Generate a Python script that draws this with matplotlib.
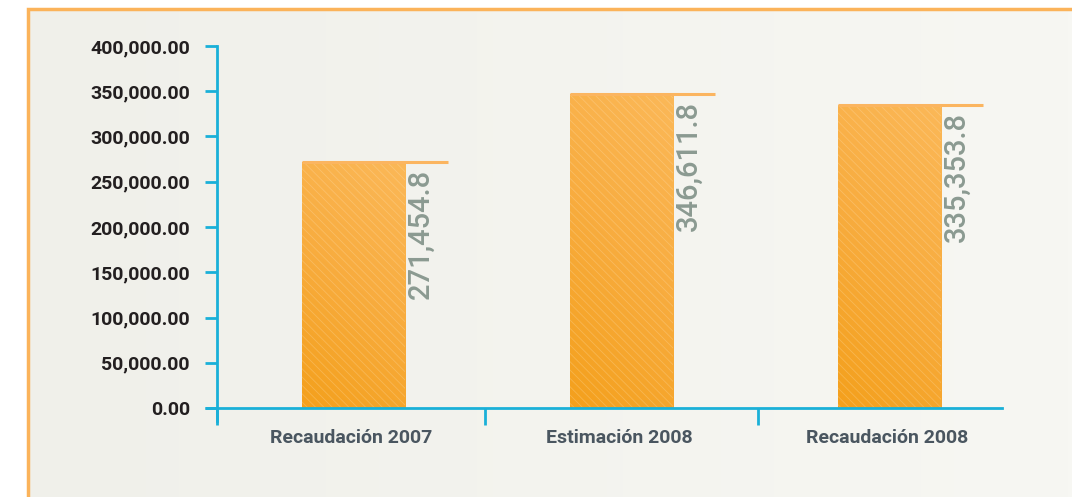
import numpy as np
import matplotlib.pyplot as plt
from matplotlib import transforms
from matplotlib.patches import Rectangle
from matplotlib.colors import LinearSegmentedColormap

categories = ["Recaudación 2007", "Estimación 2008", "Recaudación 2008"]
values = [271454.8, 346611.8, 335353.8]
value_labels = ["271,454.8", "346,611.8", "335,353.8"]
yticks = [0, 50000, 100000, 150000, 200000, 250000, 300000, 350000, 400000]

plt.rcParams["hatch.linewidth"] = 0.6

W, H = 1072, 497
fig = plt.figure(figsize=(W / 100, H / 100), dpi=100)
fig.patch.set_facecolor("white")

# framed panel with soft gradient
bg = fig.add_axes([28 / W, 0, 1 - 28 / W, (H - 9) / H], zorder=-2)
grad = np.linspace(0, 1, 256)[None, :]
bg.imshow(grad, aspect="auto", cmap=LinearSegmentedColormap.from_list(
    "bg", ["#f0f0ea", "#f7f7f3"]), extent=[0, 1, 0, 1])
bg.set_xlim(0, 1)
bg.set_ylim(0, 1)
bg.axis("off")
fig.add_artist(Rectangle((28 / W, -0.01), 1.1, (H - 9) / H + 0.01, transform=fig.transFigure,
                         fill=False, edgecolor="#fbb35a", linewidth=2.5, zorder=-1))

ax = fig.add_axes([217 / W, 89 / H, (1002 - 217) / W, (408 - 46) / H])
ax.set_facecolor("none")

x = np.arange(len(categories))
bw = 0.387
bars = ax.bar(x + 0.01, values, width=bw, color="#f8a834", zorder=2)

# gradient fill inside each bar plus diagonal texture
cmap = LinearSegmentedColormap.from_list("bar", ["#f4a01c", "#f8ac3e", "#fbb858"])
gy, gx = np.mgrid[0:1:200j, 0:1:60j]
g = np.clip(gy * 0.75 + gx * 0.25, 0, 1)
for b in bars:
    im = ax.imshow(g, cmap=cmap, origin="lower", aspect="auto", zorder=2.1,
                   extent=[b.get_x(), b.get_x() + b.get_width(), 0, b.get_height()])
    im.set_clip_path(b)
    b.set_facecolor("none")
    b.set_hatch("\\\\\\\\")
    b.set_edgecolor((1, 0.93, 0.8, 0.25))
    b.set_linewidth(0)
    b.set_zorder(2.2)

# top line extending past each bar
ax.hlines(values, x + 0.01 - bw / 2, x + 0.01 + bw / 2 + 0.157, colors="#fbb560",
          linewidth=2.2, zorder=3)

for xi, v, lab in zip(x, values, value_labels):
    tr = transforms.offset_copy(ax.transData, fig=fig, x=1, y=-7, units="dots")
    ax.text(xi + 0.01 + bw / 2, v, lab, transform=tr, rotation=90, ha="left", va="top",
            fontsize=21, color="#8b9a91", family="Roboto", fontweight="medium", zorder=4)

ax.set_ylim(0, 400000)
ax.set_xlim(-0.5, 2.43)
ax.set_yticks(yticks)
ax.set_yticklabels([f"{t:,.2f}" for t in yticks])
ax.set_xticks(x)
ax.set_xticklabels(categories)
ax.set_xticks([-0.5, 0.5, 1.52], minor=True)

blue = "#1ab0d8"
for s in ["top", "right"]:
    ax.spines[s].set_visible(False)
for s in ["left", "bottom"]:
    ax.spines[s].set_color(blue)
    ax.spines[s].set_linewidth(2)
ax.spines["left"].set_bounds(-14000, 400000)
ax.spines["left"].set_clip_on(False)

ax.tick_params(axis="y", direction="out", length=8.6, width=2, color=blue, pad=11,
               labelsize=14, labelcolor="#231f20")
ax.tick_params(axis="x", which="major", length=0, pad=15, labelsize=14, labelcolor="#4a5660")
ax.tick_params(axis="x", which="minor", direction="out", length=12.5, width=2, color=blue)
for t in ax.get_yticklabels() + ax.get_xticklabels():
    t.set_family("Roboto")
    t.set_fontweight("bold")

# extend x axis to the left under the zero tick
ax.plot([-0.5 - 12 / 268.5, -0.5], [0, 0], color=blue, linewidth=2, clip_on=False,
        solid_capstyle="butt")

fig.savefig("out.png", dpi=100)
